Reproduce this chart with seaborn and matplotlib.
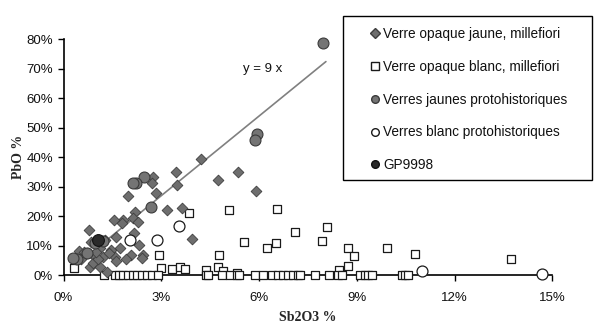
import matplotlib
matplotlib.use("Agg")
import matplotlib.pyplot as plt
import seaborn as sns
import numpy as np
import pandas as pd
from matplotlib.lines import Line2D
from matplotlib.patches import Rectangle

# ---- data (percent units) ----
jaune_mf_x = [4.22, 3.45, 3.47, 2.75, 2.70, 2.84, 1.99, 4.75, 5.35, 5.90, 3.18, 3.63, 3.93,
              2.18, 2.12, 1.83, 1.56, 1.80, 2.29, 2.16, 1.61, 0.79, 0.83, 2.30, 1.73, 1.46,
              2.06, 1.92, 2.45, 2.40, 0.48, 0.72, 1.12, 0.97, 0.81, 0.91, 1.12, 1.22, 1.58,
              1.60, 1.33, 1.27, 0.62, 1.05, 0.55, 1.40, 1.00]
jaune_mf_y = [39.4, 35.0, 30.5, 33.4, 31.2, 27.8, 27.0, 32.2, 35.1, 28.6, 22.1, 22.9, 12.2,
              21.5, 19.3, 18.7, 18.7, 17.8, 18.2, 14.2, 13.1, 15.4, 11.4, 10.3, 9.1, 8.6,
              6.9, 5.4, 6.9, 5.8, 8.3, 7.5, 9.1, 6.3, 2.9, 4.0, 2.9, 6.3, 6.3,
              5.0, 1.2, 11.8, 8.0, 5.5, 5.5, 7.5, 7.8]

blanc_mf_x = [0.32, 3.84, 5.09, 6.54, 7.10, 2.94, 4.76, 5.54, 6.52, 6.23, 2.99, 3.32, 3.57,
              3.72, 4.37, 4.75, 4.88, 5.33, 7.92, 8.09, 8.74, 8.91, 8.74, 8.46, 9.93, 10.78,
              13.72,
              1.24, 1.58, 1.70, 1.83, 1.99, 2.12, 2.25, 2.40, 2.55, 2.71, 2.91, 4.37, 4.43,
              4.85, 5.11, 5.33, 5.39, 5.87, 6.13, 6.39, 6.59, 6.74, 6.90, 7.05, 7.20, 7.26,
              7.71, 8.15, 8.43, 8.53, 9.09, 9.25, 9.35, 9.45, 10.37, 10.48, 10.58]
blanc_mf_y = [2.4, 21.0, 22.1, 22.4, 14.6, 6.9, 6.9, 11.4, 11.1, 9.1, 2.6, 2.0, 2.7,
              2.1, 1.8, 2.7, 1.6, 0.9, 11.7, 16.3, 9.1, 6.5, 3.2, 1.8, 9.1, 7.2,
              5.4,
              0, 0, 0, 0, 0, 0, 0, 0, 0, 0, 0, 0, 0,
              0, 0, 0, 0, 0, 0, 0, 0, 0, 0, 0, 0, 0,
              0, 0, 0, 0, 0, 0, 0, 0, 0, 0, 0]

jaune_ph_x = [7.97, 5.95, 5.88, 2.47, 2.22, 2.12, 2.67, 1.20, 0.42, 0.30, 0.73, 0.95]
jaune_ph_y = [78.8, 47.9, 45.9, 33.2, 31.2, 31.2, 23.3, 11.6, 5.4, 5.8, 7.5, 11.0]

blanc_ph_x = [3.53, 2.88, 2.03, 11.0, 14.67]
blanc_ph_y = [16.8, 11.8, 11.9, 1.6, 0.4]

gp_x = [1.07]
gp_y = [11.8]

labels = ["Verre opaque jaune, millefiori", "Verre opaque blanc, millefiori",
          "Verres jaunes protohistoriques", "Verres blanc protohistoriques", "GP9998"]

fit_slope = 9
fit_x = np.array([0.75, 8.05])

x_ticks = [0, 3, 6, 9, 12, 15]
y_ticks = [0, 10, 20, 30, 40, 50, 60, 70, 80]

# ---- plot ----
sns.set_theme(style="white")
plt.rcParams['font.family'] = ['Liberation Sans', 'DejaVu Sans']

fig = plt.figure(figsize=(5.94, 3.25), dpi=100)
ax = fig.add_axes([0.107, 0.153, 0.823, 0.726])

sns.lineplot(x=fit_x, y=fit_slope * fit_x, ax=ax, color="#808080", linewidth=1.2)

common = dict(ax=ax, clip_on=False, legend=False, zorder=3)
sns.scatterplot(x=blanc_mf_x, y=blanc_mf_y, marker="s", s=40, facecolor="white",
                edgecolor="#1a1a1a", linewidth=0.9, **common)
sns.scatterplot(x=jaune_mf_x, y=jaune_mf_y, marker="D", s=30, color="#6e6e6e",
                edgecolor="#3e3e3e", linewidth=0.6, **common)
sns.scatterplot(x=jaune_ph_x, y=jaune_ph_y, marker="o", s=62, color="#747474",
                edgecolor="#3a3a3a", linewidth=0.8, **common)
sns.scatterplot(x=blanc_ph_x, y=blanc_ph_y, marker="o", s=62, facecolor="white",
                edgecolor="#1a1a1a", linewidth=0.9, **common)
sns.scatterplot(x=gp_x, y=gp_y, marker="o", s=72, color="#2a2a2a",
                edgecolor="#111111", linewidth=0.8, **common)

ax.set_xlim(0, 15)
ax.set_ylim(0, 80)
ax.set_xticks(x_ticks)
ax.set_xticklabels([f"{t}%" for t in x_ticks])
ax.set_yticks(y_ticks)
ax.set_yticklabels([f"{t}%" for t in y_ticks])
ax.tick_params(axis="both", which="both", direction="out", length=4, width=1,
               color="black", labelsize=9.5, labelcolor="#111111", bottom=True, left=True)
ax.tick_params(axis="x", pad=8)
for side in ["top", "right"]:
    ax.spines[side].set_visible(False)
for side in ["left", "bottom"]:
    ax.spines[side].set_color("black")
    ax.spines[side].set_linewidth(1.2)
ax.grid(False)

ax.set_xlabel("Sb2O3 %", fontsize=10, fontweight="bold", family="Liberation Serif",
              labelpad=5)
ax.set_ylabel("PbO %", fontsize=10, fontweight="bold", family="Liberation Serif",
              labelpad=1)

ax.text(5.5, 70, "y = 9 x", fontsize=9.5, color="#111111", ha="left", va="center")

handles = [
    Line2D([], [], marker="D", linestyle="", markersize=5, markerfacecolor="#6e6e6e",
           markeredgecolor="#3e3e3e"),
    Line2D([], [], marker="s", linestyle="", markersize=5.5, markerfacecolor="white",
           markeredgecolor="#1a1a1a"),
    Line2D([], [], marker="o", linestyle="", markersize=5.5, markerfacecolor="#747474",
           markeredgecolor="#3a3a3a"),
    Line2D([], [], marker="o", linestyle="", markersize=5.5, markerfacecolor="white",
           markeredgecolor="#1a1a1a"),
    Line2D([], [], marker="o", linestyle="", markersize=5.5, markerfacecolor="#2a2a2a",
           markeredgecolor="#111111"),
]
fig.patches.append(Rectangle((343 / 594, 1 - 180 / 325), 249 / 594, 164 / 325,
                             transform=fig.transFigure, fill=False, edgecolor="black",
                             linewidth=1.0))
leg = fig.legend(handles, labels, loc="upper left",
                 bbox_to_anchor=(369.5 / 594, 1 - 27 / 325),
                 fontsize=9.8, frameon=False,
                 handlelength=0.8, handletextpad=0.2, labelspacing=1.38,
                 borderpad=0, borderaxespad=0)
for t in leg.get_texts():
    t.set_color("#111111")

fig.savefig("out.png", dpi=100)
